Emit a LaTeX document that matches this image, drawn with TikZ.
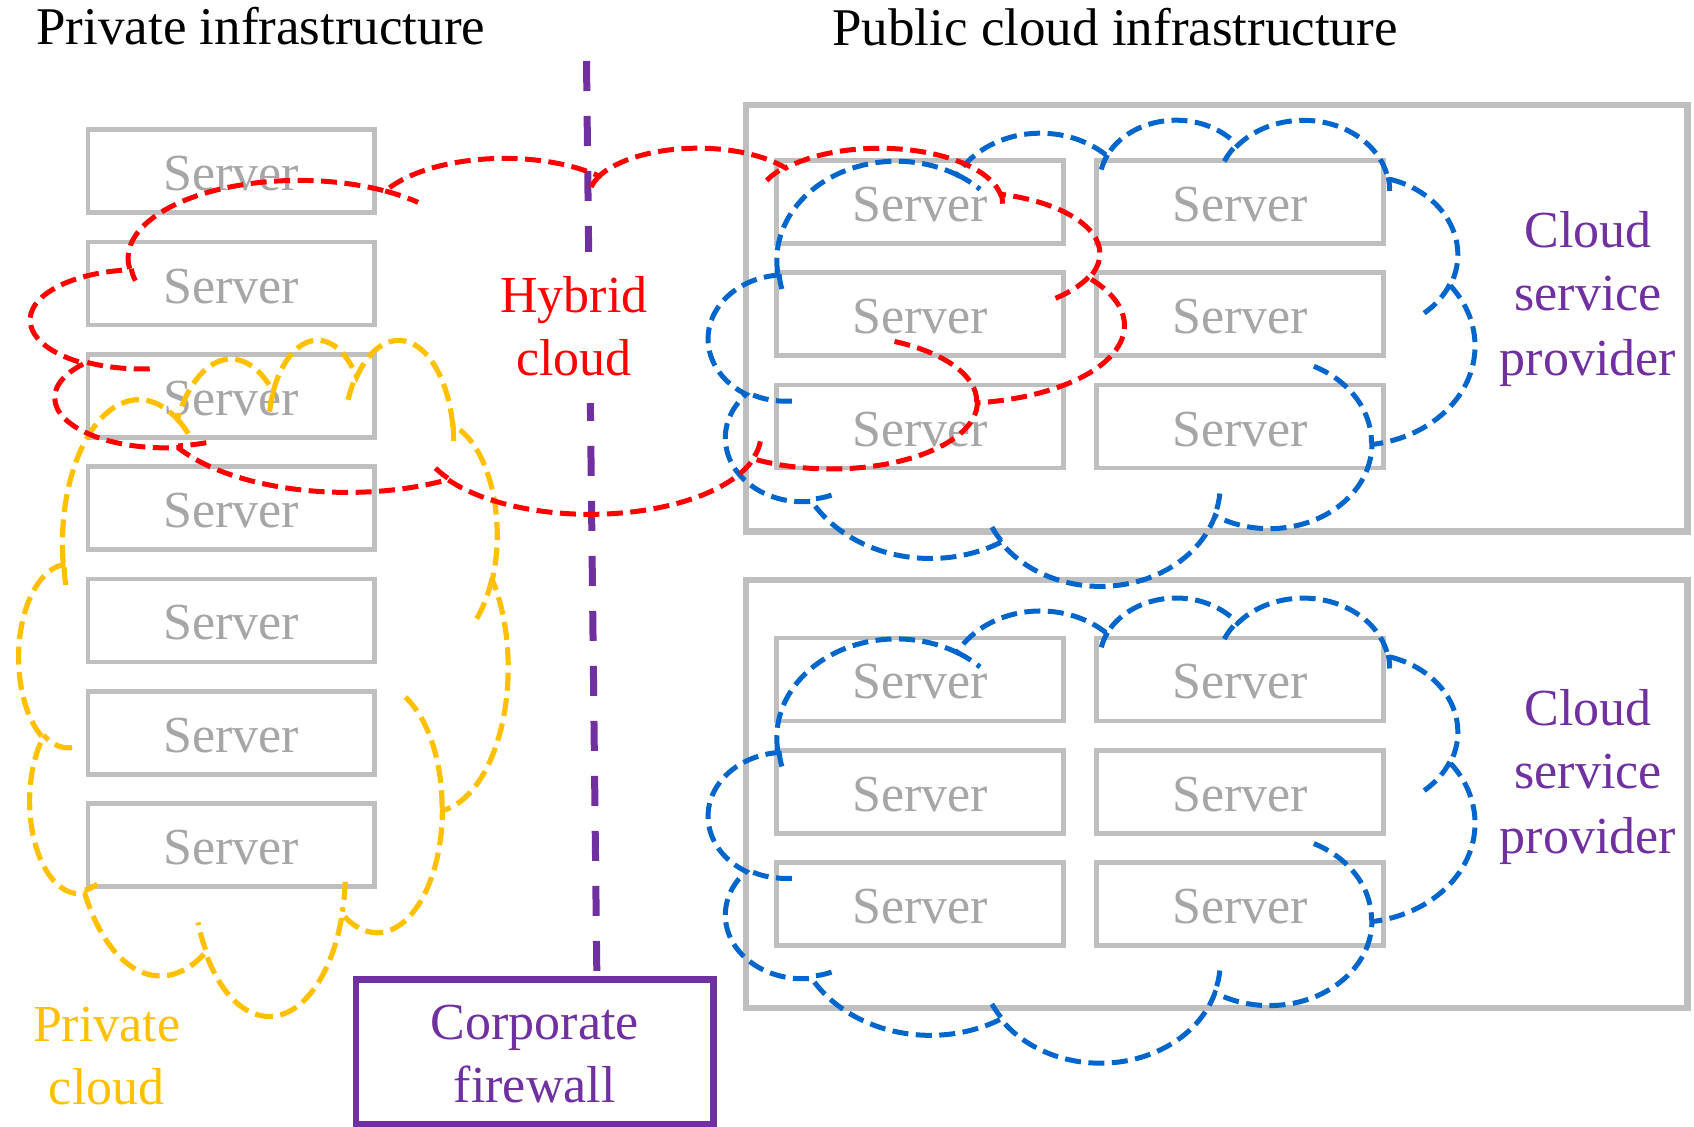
\documentclass[tikz,border=0pt]{standalone}
\usepackage{fontspec}
\setmainfont{Liberation Serif}
\definecolor{boxgray}{HTML}{BFBFBF}
\definecolor{servergray}{HTML}{A6A6A6}
\definecolor{cred}{HTML}{FF0000}
\definecolor{cyellow}{HTML}{FFC000}
\definecolor{cblue}{HTML}{0066CC}
\definecolor{cpurple}{HTML}{7030A0}
% parametric angles for the cloud arcs
\newcommand\mkang[5]{%
  \pgfmathsetmacro\cldta{#4}%
  \pgfmathsetmacro\cldtd{atan2((#2)*sin(\cldta),(#3)*cos(\cldta))-\cldta}%
  \pgfmathsetmacro\cldtd{\cldtd-360*round(\cldtd/360)}%
  \pgfmathsetmacro\cldts{\cldta+\cldtd}%
  \pgfmathsetmacro\cldtb{#4+#5}%
  \pgfmathsetmacro\cldtd{atan2((#2)*sin(\cldtb),(#3)*cos(\cldtb))-\cldtb}%
  \pgfmathsetmacro\cldtd{\cldtd-360*round(\cldtd/360)}%
  \pgfmathsetmacro\cldte{\cldtb+\cldtd}%
  \expandafter\xdef\csname clds#1\endcsname{\cldts}%
  \expandafter\xdef\csname clde#1\endcsname{\cldte}%
}
\newcommand\ppcloud[5]{%
  \pgfmathsetmacro\cux{#4*0.5/432}%
  \pgfmathsetmacro\cuy{#5*0.5/432}%
  \begin{scope}[shift={(#2,#3)}, x=\cux pt, y=-\cuy pt]
    \draw[#1] (39.00,143.70)
      arc[start angle=\cldsA, end angle=\cldeA, x radius=67.53, y radius=91.90]
      arc[start angle=\cldsB, end angle=\cldeB, x radius=53.33, y radius=72.67]
      arc[start angle=\cldsC, end angle=\cldeC, x radius=43.65, y radius=59.45]
      arc[start angle=\cldsD, end angle=\cldeD, x radius=48.57, y radius=65.95]
      arc[start angle=\cldsE, end angle=\cldeE, x radius=53.33, y radius=72.73]
      arc[start angle=\cldsF, end angle=\cldeF, x radius=67.75, y radius=92.20]
      arc[start angle=\cldsG, end angle=\cldeG, x radius=57.85, y radius=78.67]
      arc[start angle=\cldsH, end angle=\cldeH, x radius=67.52, y radius=92.15]
      arc[start angle=\cldsI, end angle=\cldeI, x radius=77.20, y radius=105.43]
      arc[start angle=\cldsJ, end angle=\cldeJ, x radius=43.60, y radius=59.18]
      arc[start angle=\cldsK, end angle=\cldeK, x radius=43.45, y radius=59.45]
      -- cycle;
    \draw[#1]
      (46.93,261.77) arc[start angle=\cldsL, end angle=\cldeL, x radius=43.45, y radius=59.45]
      (69.28,348.99) arc[start angle=\cldsM, end angle=\cldeM, x radius=43.60, y radius=59.18]
      (164.78,390.90) arc[start angle=\cldsN, end angle=\cldeN, x radius=67.52, y radius=92.15]
      (288.27,347.51) arc[start angle=\cldsO, end angle=\cldeO, x radius=67.52, y radius=92.15]
      (341.29,229.54) arc[start angle=\cldsP, end angle=\cldeP, x radius=57.85, y radius=78.67]
      (417.98,153.54) arc[start angle=\cldsQ, end angle=\cldeQ, x radius=53.33, y radius=72.73]
      (383.24,54.26) arc[start angle=\cldsR, end angle=\cldeR, x radius=48.57, y radius=65.95]
      (290.78,39.52) arc[start angle=\cldsS, end angle=\cldeS, x radius=48.57, y radius=65.95]
      (221.41,47.20) arc[start angle=\cldsT, end angle=\cldeT, x radius=43.65, y radius=59.45]
      (140.00,51.92) arc[start angle=\cldsU, end angle=\cldeU, x radius=67.53, y radius=91.90]
      (41.27,157.89) arc[start angle=\cldsV, end angle=\cldeV, x radius=67.53, y radius=91.90];
  \end{scope}
}
\begin{document}
\begin{tikzpicture}[x=0.5pt, y=-0.5pt,
  serverbox/.style={draw=boxgray, line width=2.3pt, minimum width=143.25pt, minimum height=41.5pt,
    inner sep=0pt, text=servergray, font=\fontsize{26}{31}\selectfont, text height=19.5pt, text depth=0pt},
  bigbox/.style={draw=boxgray, line width=3.4pt, minimum width=470.75pt, inner sep=0pt},
  fwbox/.style={draw=cpurple, line width=3.4pt, minimum width=178.65pt, minimum height=72.25pt, inner sep=0pt},
  txt/.style={anchor=base, inner sep=0pt, font=\fontsize{26}{31}\selectfont},
  ttl/.style={anchor=base, inner sep=0pt, font=\fontsize{26.5}{31}\selectfont},
  bluecl/.style={draw=cblue, line width=2.5pt, dash pattern=on 8pt off 3.75pt},
  redcl/.style={draw=cred, line width=2.5pt, dash pattern=on 8pt off 3.75pt},
  yellowcl/.style={draw=cyellow, line width=2.6pt, dash pattern=on 9pt off 3.75pt},
  fwline/.style={draw=cpurple, line width=3.5pt, dash pattern=on 15pt off 12.5pt}]
\mkang{A}{67.53}{91.90}{-190.48748}{123.78053}
\mkang{B}{53.33}{72.67}{-144.10238}{89.94523}
\mkang{C}{43.65}{59.45}{-145.80792}{99.72302}
\mkang{D}{48.57}{65.95}{-130.98607}{117.24173}
\mkang{E}{53.33}{72.73}{-78.70888}{109.02692}
\mkang{F}{67.75}{92.20}{-46.26725}{130.26900}
\mkang{G}{57.85}{78.67}{0.62502}{114.03333}
\mkang{H}{67.52}{92.15}{22.45160}{115.17255}
\mkang{I}{77.20}{105.43}{66.24263}{75.71102}
\mkang{J}{43.60}{59.18}{-274.94208}{146.73557}
\mkang{K}{43.45}{59.45}{-246.82850}{152.51885}
\mkang{L}{43.45}{59.45}{86.74200}{26.42950}
\mkang{M}{43.60}{59.18}{73.61047}{11.44747}
\mkang{N}{67.52}{92.15}{137.62415}{14.08110}
\mkang{O}{67.52}{92.15}{6.45327}{15.99835}
\mkang{P}{57.85}{78.67}{-70.29235}{70.91737}
\mkang{Q}{53.33}{72.73}{30.31803}{27.75150}
\mkang{R}{48.57}{65.95}{-13.74433}{14.85890}
\mkang{S}{48.57}{65.95}{-149.18145}{18.19537}
\mkang{T}{43.65}{59.45}{-163.49427}{17.68635}
\mkang{U}{67.53}{91.90}{-66.70695}{12.31935}
\mkang{V}{67.53}{91.90}{162.03522}{11.85817}
\useasboundingbox (0,0) rectangle (1694,1127);
% titles
\node[ttl, anchor=base west] (ptitle) at (36,45) {Private infrastructure};
\node[ttl] (qtitle) at (1115,46) {Public cloud infrastructure};
% public provider boxes
\node[bigbox, minimum height=213.35pt] (pub1) at (1216.75,318.35) {};
\node[bigbox, minimum height=214pt] (pub2) at (1216.75,794) {};
% private servers
\foreach \i/\yy in {1/171.3,2/283.6,3/395.9,4/508.2,5/620.5,6/732.8,7/845.1}
  \node[serverbox] (p\i) at (231.25,\yy) {Server};
% public servers
\foreach \i/\yy in {1/202,2/314.3,3/426.6}{
  \node[serverbox] (ua\i) at (920,\yy) {Server};
  \node[serverbox] (ub\i) at (1240,\yy) {Server};
}
\foreach \i/\yy in {1/679.5,2/791.8,3/904.1}{
  \node[serverbox] (la\i) at (920,\yy) {Server};
  \node[serverbox] (lb\i) at (1240,\yy) {Server};
}
% clouds
\ppcloud{bluecl}{708.7}{118.7}{766}{466}
\ppcloud{bluecl}{708.7}{596.5}{766}{465}
\ppcloud{yellowcl}{19}{338}{489}{676}
% firewall line and box
\node[fwbox] (fw) at (534.65,1051.75) {};
\coordinate (ltop) at (586.5,61);
\coordinate (lbot) at (597,988);
\draw[fwline] (ltop) -- (lbot);
\ppcloud{redcl}{31}{147}{1093}{366}
\fill[white] (500,252) rectangle (650,403);
% labels
\node[txt, text=cred] (hy1) at (574,313) {Hybrid};
\node[txt, text=cred] (hy2) at (574,376) {cloud};
\node[txt, text=cpurple] (ca1) at (1588,248) {Cloud};
\node[txt, text=cpurple] (ca2) at (1588,311) {service};
\node[txt, text=cpurple] (ca3) at (1588,376) {provider};
\node[txt, text=cpurple] (cb1) at (1588,725.5) {Cloud};
\node[txt, text=cpurple] (cb2) at (1588,788.5) {service};
\node[txt, text=cpurple] (cb3) at (1588,853.5) {provider};
\node[txt, text=cyellow] (pc1) at (106.7,1042) {Private};
\node[txt, text=cyellow] (pc2) at (106.7,1104.5) {cloud};
\node[txt, text=cpurple] (fw1) at (534.7,1039.5) {Corporate};
\node[txt, text=cpurple] (fw2) at (534.7,1103) {firewall};
\end{tikzpicture}
\end{document}
